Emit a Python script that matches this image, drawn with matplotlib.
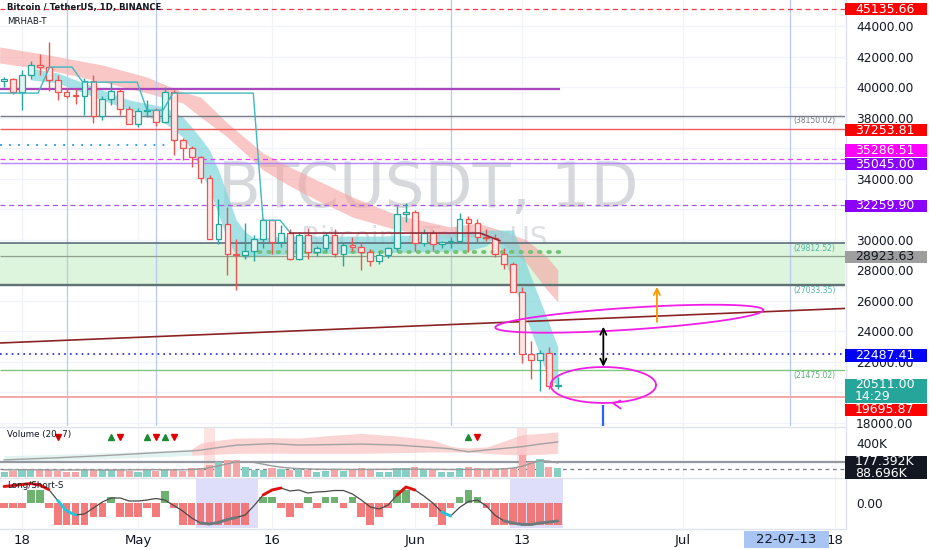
import matplotlib
matplotlib.use('Agg')  # no display
import matplotlib.pyplot as plt
from matplotlib.patches import Rectangle
from matplotlib.transforms import IdentityTransform
import numpy as np

# x = day index, 0 = 2022-04-18; candles run 2022-04-16 .. 2022-06-17
days = np.arange(-2, 61)
opens = [40400, 40550, 39700, 40800, 41500, 41370, 40480, 39710, 39450, 39450, 40430, 38110, 39240, 39740, 38600,
         37630, 38470, 38530, 37730, 39690, 36550, 36010, 35470, 34040, 30080, 31020, 29100, 29030, 29290, 30080,
         31330, 29870, 30440, 28720, 30320, 29200, 29450, 30290, 29100, 29650, 29540, 29200, 28630, 29030, 29470, 31730,
         31800, 29800, 30450, 29700, 29860, 29920, 31370, 31130, 30200, 30110, 29090, 28420, 26570, 22490, 22140,
         22580, 20400]
highs = [40710, 40620, 41120, 41760, 42200, 42980, 40800, 39980, 39930, 40620, 40800, 39470, 40370, 39920, 38800,
         38680, 39170, 38650, 40020, 39850, 36680, 36130, 35500, 34240, 32660, 32160, 30030, 31080, 30340, 31460,
         31330, 31000, 30720, 30550, 30780, 29630, 30490, 30690, 29830, 30220, 29860, 29400, 29250, 29560, 32220, 32400,
         31980, 30690, 30680, 29950, 30170, 31760, 31560, 31340, 30700, 30380, 29440, 28550, 26900, 23360, 22800,
         22980, 21000]
lows = [40000, 39550, 38540, 40570, 40800, 39750, 39170, 39300, 38900, 38200, 37700, 37880, 38880, 38180, 37580,
        37390, 38050, 37500, 37670, 35570, 35260, 34790, 33710, 30030, 29730, 27700, 26700, 28750, 28610, 29480,
        29090, 29530, 28650, 28690, 28730, 28950, 29240, 28900, 28310, 29300, 28020, 28260, 28450, 28820, 29300, 31200,
        29300, 29570, 29250, 29480, 29500, 29880, 29220, 29850, 29940, 28850, 28100, 26560, 21930, 20850, 20070,
        20230, 20200]
closes = [40550, 39700, 40800, 41500, 41370, 40480, 39710, 39450, 39440, 40430, 38110, 39240, 39740, 38600, 37630,
          38470, 38530, 37730, 39690, 36550, 36010, 35470, 34040, 30080, 31020, 29100, 29030, 29290, 30080, 31330,
          29870, 30440, 28720, 30320, 29200, 29450, 30290, 29100, 29650, 29540, 29200, 28630, 29030, 29470, 31730, 31800,
          29800, 30450, 29700, 29860, 29920, 31370, 31130, 30200, 30110, 29090, 28420, 26570, 22490, 22140, 22580,
          20400, 20511]

# volume in thousands
volume_k = [55, 70, 85, 80, 85, 80, 75, 62, 55, 80, 80, 85, 80, 80, 75, 62, 82, 65, 95, 82, 72, 100,
            108, 140, 175, 200, 200, 120, 85, 80, 100, 95, 85,
            95, 85, 60, 75, 85, 70, 95, 100, 82, 62, 62, 100, 100, 115, 82, 85, 60, 62, 100, 115, 100, 85, 85, 100, 100,
            255, 180, 210, 115, 100]
vol_ma_k = [85, 84, 86, 85, 84, 83, 82, 82, 83, 84, 83, 82, 82, 83, 84, 85, 86, 86, 85, 84, 85, 88,
            95, 110, 130, 155, 175, 180, 170, 150, 130, 115, 105,
            98, 95, 92, 90, 90, 89, 88, 88, 89, 90, 90, 91, 92, 92, 91, 90, 89, 88, 88, 89, 90, 91, 92, 95, 105,
            125, 160, 190, 185, 165]
env_days = [-2, 4, 10, 16, 19, 20, 22, 24, 28, 31, 35, 38, 42, 46, 48, 49, 50, 52, 54, 56, 58, 60]
env_up = [250, 265, 285, 310, 330, 395, 430, 455, 460, 455, 490, 510, 480, 433, 360, 345, 340, 351, 420, 495, 510, 527]
env_lo = [185, 200, 215, 240, 255, 258, 268, 277, 280, 277, 277, 277, 285, 293, 293, 293, 293, 277, 265, 257, 265, 277]
env_mid = [200, 225, 255, 290, 305, 315, 345, 372, 390, 374, 380, 385, 374, 345, 330, 310, 295, 316, 335, 355, 385, 410]
vol_up_marks = [10, 14, 16, 50]
vol_dn_marks = [4, 11, 15, 17, 51]
vol_hot_days = [21, 56]

# Long/Short-S pane
ls_hist = [-1, -1, -1, 2.6, 2.6, -1, -4.4, -4.4, -4.4, -4.4, -2.8, -2.8, 1.3, -2.8, -2.8, -2.8, -1, -2.8, 2.4, -1,
           -4.4, -4.4, -4.4, -4.4, -4.4, -4.4, -4.4, -4.4, 0, 1.3, 1.3, -1, -2.8,
           -1, 1.3, -1, 1.3, 1.3, -1, 1.3, -2.8, -4.4, -2.8, -1, 2.6, 2.6, -1, -1, -2.8, -4.4, -1, 1.3, 2.6, 1.3, -1,
           -4.4, -4.4, -4.4, -4.4, -4.4, -4.4, -4.4, -4.4]
ls_line = [3.3, 3.5, 3.7, 3.9, 3.6, 2.7, 0.5, -1.6, -2.4, -2.2, -1.0, 0.2, 1.0, 1.0, 0.4, 0.4, 0.6, 0.9, 0.6, -0.5,
           -1.6, -3.0, -4.0, -4.2, -3.9, -3.3, -2.9, -2.4, -0.5, 1.6, 2.6, 3.0, 2.4, 2.6, 2.0, 2.2, 2.3, 2.5, 2.5, 1.8,
           0.6, -0.8, -1.2, -0.4, 1.6, 3.2, 2.6, 1.4, 0.0, -1.8, -2.6, -0.9, 0.3, 0.6, -0.6, -2.5, -3.6, -4.0, -4.3,
           -4.3, -4.0, -3.8, -3.6]
ls_segments = [(-2, 3, '#e01010'), (27, 29, '#e01010'), (42, 44, '#e01010'),
               (4, 6, '#26c6da'), (47, 48, '#26c6da'), (20, 24, '#6d7b7d'), (54, 60, '#6d7b7d')]
ls_zones = [(19.5, 26.4), (54.6, 60.6)]

# ribbons on the price pane
pink_days = [-2.5, 3, 9, 14, 18, 20, 23, 27, 30, 33, 37, 42, 48, 51, 53.5, 56.5, 58.8, 60]
pink_hi = [42655, 42130, 41474, 40687, 39703, 39375, 37670, 35702, 34783, 33930, 32815, 31634, 30847, 31110, 30650,
           29994, 28880, 28027]
pink_lo = [41606, 41146, 40359, 39638, 38982, 38063, 36751, 34586, 33536, 32618, 31503, 30650, 30191, 30191, 29863,
           28486, 26715, 25928]
teal_days = [1, 4, 9, 12, 16, 18, 19, 20, 21, 22, 23, 24, 25, 26, 30, 40, 50, 52, 53, 54, 55, 56, 57, 58, 59, 60]
teal_hi = [41278, 40950, 39834, 39178, 38719, 38063, 37407, 36685, 35898, 34586, 32946, 31306, 30519, 30125, 30250,
           30250, 30450, 30650, 30650, 30650, 30650, 29142, 27567, 26058, 24550, 22975]
teal_lo = [40490, 40294, 39178, 38522, 37670, 36751, 35898, 34586, 33274, 31700, 29994, 29010, 28814, 28945, 29080,
           29150, 29300, 29600, 30322, 28748, 27174, 25600, 24026, 22452, 20810, 20482]
step_days = [-2.5, 1.8, 3.1, 5.6, 6.8, 12.9, 14.0, 15.8, 16.9, 25.9, 27.0, 28.9, 30.0]
step_prices = [39630, 39630, 41340, 41340, 40350, 40350, 38510, 38510, 39630, 39630, 31290, 31290, 30500]
maroon_days = [30.0, 51.3, 53.5]
maroon_prices = [30450, 30450, 29950]
trend_days = [-2.46, 92.16]
trend_prices = [23239, 25505]

# horizontal levels: price, start day, end day, color, width, style
levels = [
    (45135.66, None, None, '#f23645', 0.9, (0, (4, 3))),
    (39894, -2.5, 60.2, '#ab47bc', 1.6, '-'),
    (38150.02, None, None, '#787b86', 1.0, '-'),
    (37253.81, None, None, '#f05a5a', 1.0, '-'),
    (36215, -2.5, 16.0, '#2196f3', 1.3, (0, (1, 4))),
    (35286.51, None, None, '#e040fb', 0.9, (0, (4, 3))),
    (35045.00, None, None, '#b388ff', 1.0, '-'),
    (32259.90, None, None, '#a855e0', 0.9, (0, (4, 3))),
    (29812.52, None, None, '#5d6f7d', 1.2, '-'),
    (28923.63, None, None, '#8fa08f', 0.9, '-'),
    (27033.35, None, None, '#607272', 1.7, '-'),
    (22487.41, None, None, '#2020ee', 1.2, (0, (1, 2.5))),
    (21475.02, None, None, '#81c784', 1.0, '-'),
    (19695.87, None, None, '#f4a0a0', 1.3, '-'),
]
zone_lo, zone_hi = 27033.35, 29812.52
dots_price, dots_from, dots_to = 29185, 26.5, 60.3
vlines_days = [5, 15, 48, 86]
level_notes = [(38150.02, '(38150.02)', '#787b86'), (29812.52, '(29812.52)', '#4fb3a9'),
               (27033.35, '(27033.35)', '#4fb3a9'), (21475.02, '(21475.02)', '#5fae7a')]

price_ticks = [44000, 42000, 40000, 38000, 34000, 30000, 28000, 26000, 24000, 22000, 18000]
# right axis boxes: price, text, background, text colour, shift in px (up +)
price_boxes = [
    (45135.66, '45135.66', '#ff0000', 'white', 0),
    (37253.81, '37253.81', '#ff0000', 'white', -0.8),
    (35286.51, '35286.51', '#ff00ff', 'white', 9),
    (35045.00, '35045.00', '#8c00ff', 'white', -1),
    (32259.90, '32259.90', '#8c00ff', 'white', -0.5),
    (28923.63, '28923.63', '#9e9e9e', '#131722', -0.5),
    (22487.41, '22487.41', '#0000ff', 'white', -1),
    (19695.87, '19695.87', '#ff0000', 'white', -13),
]
last_price = 20511.00
last_timer = '14:29'

tick_days = [0, 13, 28, 44, 56, 74, 91]
tick_labels = ['18', 'May', '16', 'Jun', '13', 'Jul', '18']
cursor_day, cursor_label = 86, '22-07-13'

W, H = 932, 550
x_lo, x_hi = -2.46, 92.16
fig = plt.figure(figsize=(W / 100, H / 100), dpi=100)
fig.patch.set_facecolor('white')
px = IdentityTransform()


def pane(top, bottom):
    a = fig.add_axes([0, 1 - bottom / H, 845 / W, (bottom - top) / H])
    a.set_xlim(x_lo, x_hi)
    for s in a.spines.values():
        s.set_visible(False)
    a.tick_params(axis='both', length=0, labelsize=8.7, labelcolor='#131722')
    a.yaxis.tick_right()
    a.tick_params(axis='y', pad=8)
    a.set_xticks(tick_days)
    a.tick_params(axis='x', labelbottom=False)
    for d in tick_days:
        a.axvline(d, color='#f0f3fa', lw=0.9, zorder=0)
    return a


ax = pane(0, 426)
axv = pane(427, 477)
axl = pane(478, 528)

# ---- price pane
ax.set_ylim(17793, 45738)
for p in range(18000, 46000, 2000):
    ax.axhline(p, color='#f0f3fa', lw=0.9, zorder=0)
ax.set_yticks(price_ticks)
ax.set_yticklabels(['%.2f' % p for p in price_ticks])

ax.text(0.5065, 0.554, 'BTCUSDT, 1D', transform=ax.transAxes, fontsize=45, color='#c2c4ca',
        alpha=0.65, ha='center', va='center', zorder=0.5)
ax.text(0.502, 0.439, 'Bitcoin / TetherUS', transform=ax.transAxes, fontsize=20, color='#c9cbd0',
        alpha=0.6, ha='center', va='center', zorder=0.5)

ax.axhspan(zone_lo, zone_hi, color='#dcf5dc', zorder=1)
ax.fill_between(pink_days, pink_lo, pink_hi, color='#f7a3a3', alpha=0.6, lw=0, zorder=2)
ax.fill_between(teal_days, teal_lo, teal_hi, color='#7fd6dc', alpha=0.7, lw=0, zorder=2.1)

for d in vlines_days:
    ax.axvline(d, color='#b7c8f2', lw=0.9, zorder=2.5)

for price, d0, d1, col, lw, ls in levels:
    a0 = x_lo if d0 is None else d0
    a1 = x_hi if d1 is None else d1
    ax.hlines(price, a0, a1, colors=col, linewidth=lw, linestyles=ls, zorder=3)
ax.plot(trend_days, trend_prices, color='#8b2323', lw=1.2, zorder=3)
ax.plot([dots_from, dots_to], [dots_price, dots_price], color='#76c27a', lw=2.8,
        dashes=(0.4, 2.0), dash_capstyle='round', zorder=3)

# candles
up = np.array(closes) >= np.array(opens)
edge = np.where(up, '#26a69a', '#ef5350')
fill = np.where(up, '#e2f4f1', '#fde6e6')
ax.vlines(days, lows, highs, colors=edge, lw=1.0, zorder=4)
body_lo = np.minimum(opens, closes)
body_h = np.maximum(np.abs(np.array(closes) - np.array(opens)), 40)
ax.bar(days, body_h, bottom=body_lo, width=0.64, color=fill, edgecolor=edge, linewidth=0.9, zorder=4.5)

ax.plot(step_days, step_prices, color='#3fb8c0', lw=1.0, zorder=5)
ax.plot(maroon_days, maroon_prices, color='#8e2b3b', lw=1.2, zorder=5)

for price, txt, col in level_notes:
    ax.annotate(txt, (86.4, price), xytext=(0, -3.8), textcoords='offset points',
                fontsize=5.5, color=col, va='center', ha='left', zorder=6)

ax.text(7 / 845, 1 - 7.5 / 426, 'Bitcoin / TetherUS, 1D, BINANCE', transform=ax.transAxes,
        fontsize=6.1, color='#131722', weight='semibold', va='center', ha='left', zorder=7)
ax.text(7 / 845, 1 - 21.5 / 426, 'MRHAB-T', transform=ax.transAxes,
        fontsize=6.2, color='#131722', va='center', ha='left', zorder=7)

# hand drawn notes
t = np.linspace(0, 2 * np.pi, 200)
e1x = 68 + 15 * np.cos(t)
e1y = 24830 + 720 * np.sin(t) + 38 * 15 * np.cos(t)
ax.plot(e1x, e1y, color='#f01ee6', lw=1.3, zorder=7)
e2x = 65.1 + 5.9 * np.cos(t)
e2y = 20482 + 1180 * np.sin(t)
ax.plot(e2x, e2y, color='#f01ee6', lw=1.3, zorder=7)
ax.plot([67.0, 66.2, 67.0], [19452, 19282, 18954], color='#f01ee6', lw=1.3, zorder=7)
ax.annotate('', xy=(65.1, 24307), xytext=(65.1, 21683),
            arrowprops=dict(arrowstyle='<->', color='black', lw=1.3, shrinkA=0, shrinkB=0, mutation_scale=11),
            zorder=7)
ax.annotate('', xy=(71.1, 26916), xytext=(71.1, 24620),
            arrowprops=dict(arrowstyle='->', color='#ff9800', lw=1.3, shrinkA=0, shrinkB=0, mutation_scale=11),
            zorder=7)
ax.vlines(65.1, 17793, 19170, colors='#2962ff', lw=1.6, zorder=7)

# ---- volume pane
axv.set_ylim(0, 585)
axv.set_yticks([400])
axv.set_yticklabels(['400K'])
for d in vol_hot_days:
    axv.axvspan(d - 0.6, d + 0.6, color='#fde2e2', lw=0, zorder=0.5)
axv.fill_between(env_days[:5], env_lo[:5], env_up[:5], color='#bfe8e0', alpha=0.45, lw=0, zorder=1)
axv.fill_between(env_days[4:], env_lo[4:], env_up[4:], color='#f9b8b8', alpha=0.6, lw=0, zorder=1)
axv.plot(env_days, env_mid, color='#a3a3a3', lw=1.0, zorder=2)
axv.axhline(177.392, color='#9598a1', lw=1.6, zorder=2)
axv.axhline(88.696, color='#787b86', lw=0.9, ls=(0, (3, 3)), zorder=2)
vcol = np.where(up, '#85cfc5', '#f6a6a6')
axv.bar(days, volume_k, width=0.8, color=vcol, lw=0, zorder=3)
axv.plot(days, vol_ma_k, color='#9a9a9a', lw=1.0, zorder=4)
axv.plot(vol_up_marks, [468] * len(vol_up_marks), ls='none', marker='^', ms=5, color='#1b8a30', zorder=5)
axv.plot(vol_dn_marks, [468] * len(vol_dn_marks), ls='none', marker='v', ms=5, color='#e00000', zorder=5)
axv.text(7 / 845, 1 - 7 / 50, 'Volume (20, 7)', transform=axv.transAxes, fontsize=6.3,
         color='#131722', va='center', ha='left', zorder=6)

# ---- long / short pane
axl.set_ylim(-5, 5)
axl.set_yticks([0])
axl.set_yticklabels(['0.00'])
for z0, z1 in ls_zones:
    axl.axvspan(z0, z1, color='#dedefa', lw=0, zorder=0.5)
hcol = np.where(np.array(ls_hist) >= 0, '#5ea962', '#f26d6d')
axl.bar(days, ls_hist, width=0.86, color=hcol, alpha=0.9, lw=0, zorder=2)
axl.plot(days, ls_line, color='#4a4a4a', lw=0.9, zorder=3)
for s0, s1, col in ls_segments:
    i0, i1 = s0 - days[0], s1 - days[0] + 1
    axl.plot(days[i0:i1], ls_line[i0:i1], color=col, lw=2.1, zorder=3.5, solid_capstyle='round')
axl.text(7 / 845, 1 - 7 / 50, 'Long/Short-S', transform=axl.transAxes, fontsize=6.3,
         color='#131722', va='center', ha='left', zorder=6)
axl.set_xticks(tick_days)
axl.set_xticklabels(tick_labels)
axl.tick_params(axis='x', labelbottom=True, labelsize=9.5, pad=4)

# ---- separators
for y in (426.5, 477.5, 528.5):
    fig.add_artist(plt.Line2D([0, 845], [H - y, H - y], transform=px, color='#e0e3eb', lw=1))
fig.add_artist(plt.Line2D([845.5, 845.5], [H - 528.5, H], transform=px, color='#e0e3eb', lw=1))


def box(axis, value, text, bg, fg, shift=0, h=12.5):
    y = axis.transData.transform((0, value))[1] + shift
    fig.add_artist(Rectangle((845, y - h / 2), 82, h, transform=px, fc=bg, ec='none', zorder=5))
    fig.text(855, y, text, transform=px, fontsize=9, color=fg, va='center', ha='left', zorder=6)


for price, txt, bg, fg, sh in price_boxes:
    box(ax, price, txt, bg, fg, sh)
# last price box with countdown
yl = ax.transData.transform((0, last_price))[1]
fig.add_artist(Rectangle((845, yl - 18.5), 82, 24, transform=px, fc='#26a69a', ec='none', zorder=5))
fig.text(855, yl, '%.2f' % last_price, transform=px, fontsize=9, color='white', va='center', zorder=6)
fig.text(855, yl - 12, last_timer, transform=px, fontsize=9, color='white', va='center', zorder=6)

box(axv, 177.392, '177.392K', '#131722', 'white', 0, 12)
box(axv, 88.696, '88.696K', '#131722', 'white', -3.6, 11)

# cursor date box on the time axis
xc = axl.transData.transform((cursor_day, 0))[0]
fig.add_artist(Rectangle((xc - 46, H - 548), 85, 17, transform=px, fc='#a9c5f3', ec='none', zorder=5))
fig.text(xc - 3.5, H - 539.5, cursor_label, transform=px, fontsize=9.5, color='#131722',
         va='center', ha='center', zorder=6)

fig.savefig('out.png', dpi=100)
